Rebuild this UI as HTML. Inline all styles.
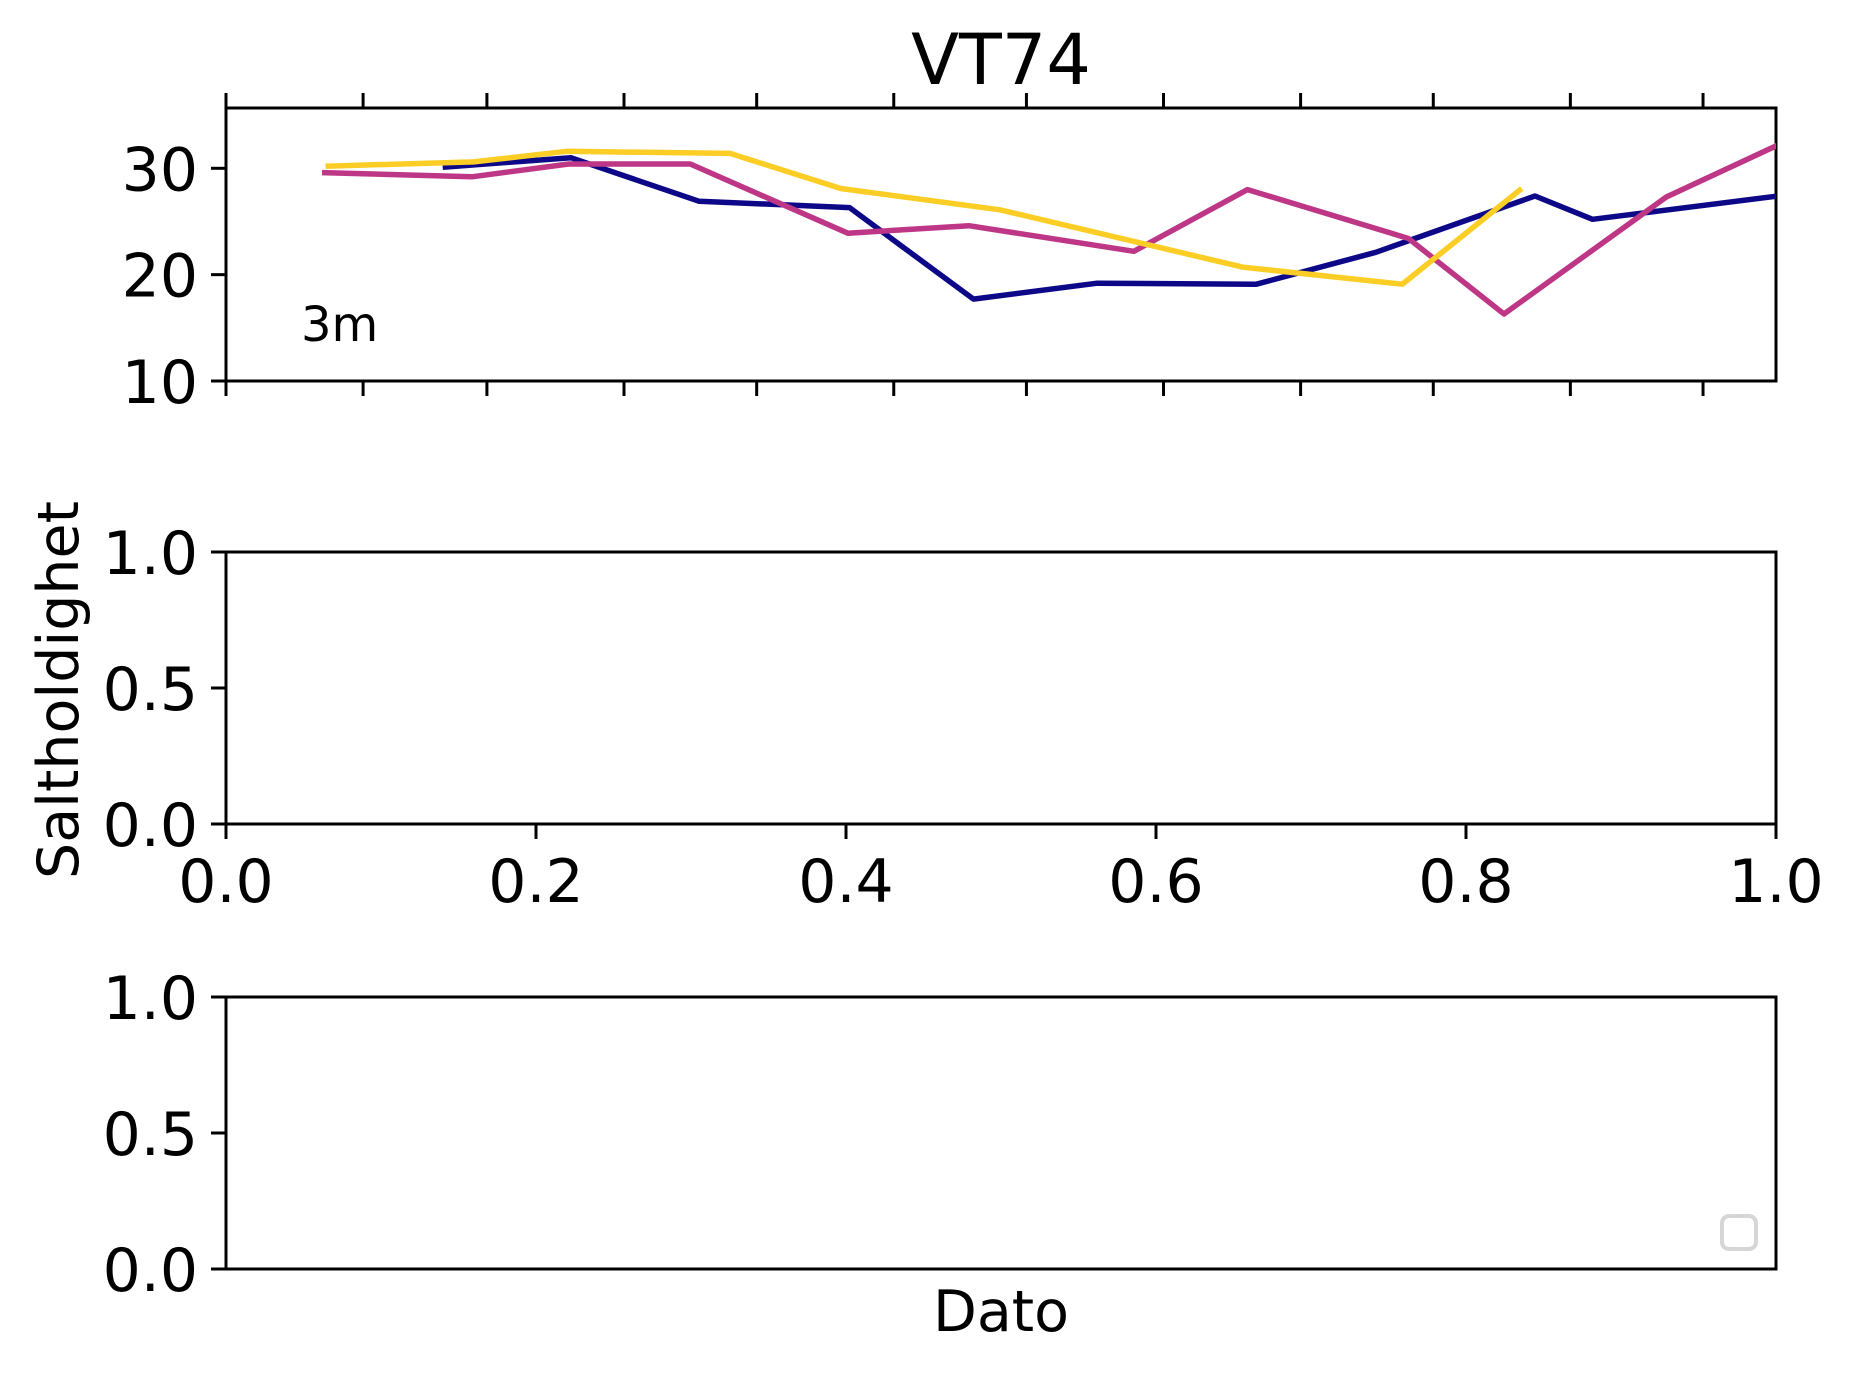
<!DOCTYPE html>
<html><head><meta charset="utf-8">
<style>
html,body{margin:0;padding:0;background:#fff;}
svg{display:block;font-family:"DejaVu Sans","Liberation Sans",sans-serif;}
</style></head>
<body>
<svg id="chart" width="1853" height="1373" viewBox="0 0 1853 1373" xmlns="http://www.w3.org/2000/svg">
<text x="1001" y="84" font-size="70" text-anchor="middle">VT74</text>
<text transform="translate(78,690) rotate(-90)" font-size="57" text-anchor="middle">Saltholdighet</text>
<text x="1001" y="1331" font-size="57" text-anchor="middle">Dato</text>
<g id="pTop"></g>
<g id="pMid"></g>
<g id="pBot"></g>
</svg>
<script>
// Data (x = day of year, y = salinity)
const monthTickDays = [0,31,59,90,120,151,181,212,243,273,304,334];
const yTicksTop = [10,20,30];
const unitTicks = [0.0,0.5,1.0];
const unitTickLabels = ["0.0","0.5","1.0"];
const xUnitTicks = [0,0.2,0.4,0.6,0.8,1.0];
const xUnitTickLabels = ["0.0","0.2","0.4","0.6","0.8","1.0"];
const navyDays = [49,78,107,141,169,197,233,260,296,309,351];
const navyVals = [30.1,31.0,26.9,26.3,17.7,19.2,19.1,22.1,27.4,25.2,27.4];
const yellowDays = [22.5,56,77,114,139,175,230,266,293];
const yellowVals = [30.2,30.6,31.6,31.4,28.1,26.1,20.7,19.1,28.1];
const magentaDays = [21.7,55.6,77.5,105,140.6,168,205.3,231,267.4,289,325.7,351];
const magentaVals = [29.6,29.2,30.4,30.4,23.9,24.6,22.2,28.0,23.4,16.3,27.3,32.2];

const NS="http://www.w3.org/2000/svg";
const L=226,R=1776;
const FS=60;
function mk(tag,attrs,parent){const e=document.createElementNS(NS,tag);for(const k in attrs)e.setAttribute(k,attrs[k]);parent.appendChild(e);return e;}
const dayX=d=>L+d*(R-L)/350.5;
const unitX=v=>L+v*(R-L);

function frame(g,T,B){
  const r=mk('rect',{x:L,y:T,width:R-L,height:B-T,fill:'none',stroke:'#000','stroke-width':3},g);
  
  
}
function yTicks(g,ticks,labels,yf){
  ticks.forEach((t,i)=>{
    const y=yf(t);
    const ln=mk('line',{x1:L-15,x2:L,y1:y,y2:y,stroke:'#000','stroke-width':3},g);
    
    
    const tx=mk('text',{x:L-28,y:y+22,'font-size':FS,'text-anchor':'end'},g);
    
    
    tx.textContent=labels[i];
  });
}
// top panel
const gTop=document.getElementById('pTop');
const T1=108,B1=381;
const yTop=v=>B1-(v-10)*(B1-T1)/(35.67-10);
frame(gTop,T1,B1);
yTicks(gTop,yTicksTop,yTicksTop.map(String),yTop);
monthTickDays.forEach(d=>{
  const x=dayX(d);
  const a=mk('line',{x1:x,x2:x,y1:B1,y2:B1+15,stroke:'#000','stroke-width':3},gTop);
  
  
  const b=mk('line',{x1:x,x2:x,y1:T1-15,y2:T1,stroke:'#000','stroke-width':3},gTop);
  
  
});
const cp=mk('clipPath',{id:'clipTop'},gTop);
mk('rect',{x:L,y:T1,width:R-L,height:B1-T1},cp);
function series(days,vals,color,name){
  const pts=days.map((d,i)=>dayX(d).toFixed(1)+','+yTop(vals[i]).toFixed(1)).join(' ');
  const p=mk('polyline',{points:pts,fill:'none',stroke:color,'stroke-width':5.5,'stroke-linejoin':'round','clip-path':'url(#clipTop)'},gTop);
  
  
}
series(navyDays,navyVals,'#0d0887','series-navy-line');
series(magentaDays,magentaVals,'#bd3786','series-magenta-line');
series(yellowDays,yellowVals,'#fccd25','series-yellow-line');
const lbl=mk('text',{x:301,y:341,'font-size':48},gTop);


lbl.textContent='3m';

// middle panel
const gMid=document.getElementById('pMid');
const T2=552,B2=824;
frame(gMid,T2,B2);
yTicks(gMid,unitTicks,unitTickLabels,v=>B2-v*(B2-T2));
xUnitTicks.forEach((t,i)=>{
  const x=unitX(t);
  const ln=mk('line',{x1:x,x2:x,y1:B2,y2:B2+15,stroke:'#000','stroke-width':3},gMid);
  
  
  const tx=mk('text',{x:x,y:B2+78,'font-size':FS,'text-anchor':'middle'},gMid);
  
  
  tx.textContent=xUnitTickLabels[i];
});

// bottom panel
const gBot=document.getElementById('pBot');
const T3=997,B3=1269;
frame(gBot,T3,B3);
yTicks(gBot,unitTicks,unitTickLabels,v=>B3-v*(B3-T3));
const lg=mk('rect',{x:1722,y:1216,width:34,height:33,rx:7,fill:'#fff',stroke:'#d6d6d6','stroke-width':4},gBot);


</script>
</body></html>
